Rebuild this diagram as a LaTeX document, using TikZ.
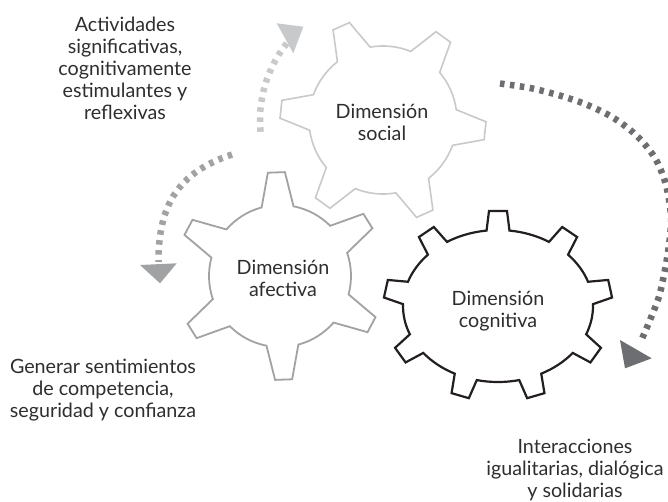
\documentclass[tikz,border=0pt]{standalone}
\usepackage{fontspec}
\setmainfont{Lato}
\usetikzlibrary{calc}
\definecolor{socialc}{HTML}{C8C9CB}
\definecolor{afectc}{HTML}{A1A2A4}
\definecolor{cognc}{HTML}{231F20}
\definecolor{darkarrow}{HTML}{6D6E71}
\definecolor{txtc}{HTML}{2E2E2E}
\pgfmathdeclarefunction{gL}{1}{\pgfmathparse{sqrt(9025*sin(#1)*sin(#1)+5776*cos(#1)*cos(#1))}}
\pgfmathdeclarefunction{gnx}{1}{\pgfmathparse{76*cos(#1)/gL(#1)}}
\pgfmathdeclarefunction{gny}{1}{\pgfmathparse{95*sin(#1)/gL(#1)}}
\pgfmathdeclarefunction{gdel}{1}{\pgfmathparse{11.5/gL(#1)*57.2958}}
\tikzset{
 lbl/.style={font=\fontsize{19.7}{22}\selectfont, text=txtc, align=center, inner sep=0pt, anchor=base},
 gearsoc/.style={draw=socialc, line width=1.6pt, fill=white, line join=miter},
 gearafe/.style={draw=afectc, line width=1.8pt, fill=white, line join=miter},
 gearcog/.style={draw=cognc, line width=2.2pt, fill=white, line join=miter},
 dashline/.style={line width=6.5pt, dash pattern=on 4.5pt off 5.5pt},
}
\begin{document}
\begin{tikzpicture}[x=1pt,y=1pt]
\useasboundingbox (0,0) rectangle (668,-501);
\clip (0,0) rectangle (668,-501);

% social gear
\begin{scope}[shift={(383,-120)}]
\draw[gearsoc] (-20:74)
 \foreach \k in {0,...,5}{
   -- ({-6+60*\k-5}:103) -- ({-6+60*\k+5}:103) -- ({-6+60*\k+14}:74)
   arc[start angle={-6+60*\k+14}, end angle={-6+60*\k+46}, radius=74]
 } -- cycle;
\end{scope}

% affective gear
\begin{scope}[shift={(280,-276)}]
\draw[gearafe] (79:71)
 \foreach \k in {0,...,5}{
   -- ({92+60*\k-4.7}:104) -- ({92+60*\k+4.7}:104) -- ({92+60*\k+13}:71)
   arc[start angle={92+60*\k+13}, end angle={92+60*\k+47}, radius=71]
 } -- cycle;
\end{scope}

% cognitive gear
\begin{scope}[shift={(498,-306)}]
\draw[gearcog] ({95*cos(-150-gdel(-150))},{76*sin(-150-gdel(-150))})
 \foreach \t in {-150,-110,...,170}{
   -- ({95*cos(\t)+19*gnx(\t)+9*gny(\t)},{76*sin(\t)+19*gny(\t)-9*gnx(\t)})
   -- ({95*cos(\t)+19*gnx(\t)-9*gny(\t)},{76*sin(\t)+19*gny(\t)+9*gnx(\t)})
   -- ({95*cos(\t+gdel(\t))},{76*sin(\t+gdel(\t))})
   arc[start angle={\t+gdel(\t)}, end angle={\t+40-gdel(\t+40)}, x radius=95, y radius=76]
 } -- cycle;
\end{scope}

% dashed arrows
\draw[dashline, socialc] (383,-120) ++(185.5:123) arc[start angle=185.5, end angle=141, radius=123];
\fill[socialc] (276.7,-23.3) -- (303.3,-26.7) -- (293.3,-53.3) -- cycle;

\draw[dashline, afectc] (232,-154.5) .. controls (178,-172.5) and (158.3,-205) .. (158.5,-262);
\fill[afectc] (140,-265) -- (176.7,-263.3) -- (160,-283.3) -- cycle;

\draw[dashline, darkarrow] plot[smooth] coordinates {(500,-83.5) (530,-88) (558,-95) (585,-104) (612,-117) (636,-135) (655,-158) (666,-185) (671,-218) (668,-252) (660,-293) (650,-320) (641,-341)};
\fill[darkarrow] (620,-340) -- (651.7,-358.3) -- (625,-368.3) -- cycle;

% labels (anchor base = baseline of last line)
\node[lbl] (social) at (382,-140) {Dimensión\\social};
\node[lbl] (afectiva) at (283,-296) {Dimensión\\afectiva};
\node[lbl] (cognitiva) at (498,-327) {Dimensión\\cognitiva};
\node[lbl] (txtact) at (125,-119.5) {Actividades\\significativas,\\cognitivamente\\estimulantes y\\reflexivas};
\node[lbl] (txtgen) at (103,-417) {Generar sentimientos\\de competencia,\\seguridad y confianza};
\node[lbl] (txtint) at (575,-497) {Interacciones\\igualitarias, dialógica\\y solidarias};
\end{tikzpicture}
\end{document}
